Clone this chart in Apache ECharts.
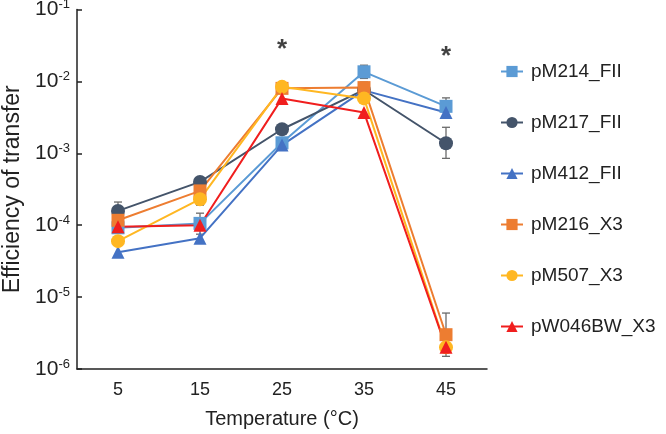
<!DOCTYPE html>
<html>
<head>
<meta charset="utf-8">
<script src="https://cdn.jsdelivr.net/npm/echarts@6/dist/echarts.min.js"></script>
<style>
  html, body { margin: 0; padding: 0; background: #fff; }
  #chart { width: 666px; height: 434px; }
</style>
</head>
<body>
<div id="chart"></div>
<script>
// temperature categories
const temps = ['5', '15', '25', '35', '45'];

// efficiency of transfer
const pM214_FII = [9.2e-5, 1.06e-4, 1.40e-3, 1.36e-2, 4.5e-3];
const pM217_FII = [1.58e-4, 4.0e-4, 2.16e-3, 7.6e-3, 1.38e-3];
const pM412_FII = [4.2e-5, 6.6e-5, 1.30e-3, 7.5e-3, 3.7e-3];
const pM216_X3 = [1.17e-4, 3.0e-4, 8.0e-3, 8.2e-3, 3.0e-6];
const pM507_X3 = [6.0e-5, 2.3e-4, 8.4e-3, 5.8e-3, 2.0e-6];
const pW046BW_X3 = [9.5e-5, 1.0e-4, 5.8e-3, 3.7e-3, 2.0e-6];

// error bars: [category index, low, high]
const errBars = [
  [0, 1.2e-4, 2.1e-4],
  [0, 8.0e-5, 1.2e-4],
  [1, 7.5e-5, 1.47e-4],
  [1, 1.9e-4, 3.4e-4],
  [2, 7.5e-3, 9.6e-3],
  [3, 1.1e-2, 1.68e-2],
  [3, 6.5e-3, 9.8e-3],
  [4, 3.2e-3, 5.9e-3],
  [4, 8.5e-4, 2.3e-3],
  [4, 1.5e-6, 6.0e-6]
];

// significance marks
const stars = [['25', 3.2e-2], ['45', 2.6e-2]];

let myChart = echarts.init(document.getElementById('chart'));

function lineSeries(name, data, color, symbol, size) {
  return {
    name: name,
    type: 'line',
    data: data,
    symbol: symbol,
    symbolSize: size,
    z: 3,
    lineStyle: { color: color, width: 2 },
    itemStyle: { color: color }
  };
}

let option = {
  animation: false,
  textStyle: { fontFamily: 'Liberation Sans, Arial, sans-serif' },
  grid: { left: 77, right: 179, top: 9.5, bottom: 65, outerBoundsMode: 'none', containLabel: false },
  legend: {
    orient: 'vertical',
    left: 500,
    top: 62,
    padding: 0,
    itemWidth: 22,
    itemHeight: 14,
    itemGap: 32,
    textStyle: { fontSize: 19, color: '#222', padding: [0, 0, 0, 3] },
    data: ['pM214_FII', 'pM217_FII', 'pM412_FII', 'pM216_X3', 'pM507_X3', 'pW046BW_X3']
  },
  xAxis: {
    type: 'category',
    data: temps,
    boundaryGap: true,
    name: 'Temperature (°C)',
    nameLocation: 'middle',
    nameGap: 40,
    nameTextStyle: { fontSize: 20, color: '#222' },
    axisLine: { lineStyle: { color: '#222', width: 1.5 } },
    axisTick: { inside: true, alignWithLabel: true, length: 6, lineStyle: { color: '#222', width: 1.5 } },
    axisLabel: { fontSize: 18, color: '#222', margin: 12 },
    splitLine: { show: false }
  },
  yAxis: {
    type: 'log',
    logBase: 10,
    min: 1e-6,
    max: 1e-1,
    name: 'Efficiency of transfer',
    nameLocation: 'middle',
    nameGap: 52,
    nameTextStyle: { fontSize: 23, color: '#222' },
    axisLine: { show: true, lineStyle: { color: '#222', width: 1.5 } },
    axisTick: { show: true, inside: true, length: 5, lineStyle: { color: '#222', width: 1.5 } },
    axisLabel: {
      margin: 7,
      formatter: function (v) {
        let e = Math.round(Math.log10(v));
        return '{b|10}{s|' + e + '}';
      },
      rich: {
        b: { fontSize: 21, color: '#222', fontFamily: 'Liberation Sans' },
        s: { fontSize: 13, color: '#222', fontFamily: 'Liberation Sans', verticalAlign: 'top', padding: [0, 0, 10, 0] }
      }
    },
    splitLine: { show: false }
  },
  series: [
    {
      type: 'custom',
      name: 'err',
      z: 2,
      data: errBars,
      renderItem: function (params, api) {
        let lo = api.coord([api.value(0), api.value(1)]);
        let hi = api.coord([api.value(0), api.value(2)]);
        let w = 4;
        let st = { stroke: '#6b6b6b', lineWidth: 1.3 };
        return {
          type: 'group',
          children: [
            { type: 'line', shape: { x1: lo[0], y1: lo[1], x2: hi[0], y2: hi[1] }, style: st },
            { type: 'line', shape: { x1: lo[0] - w, y1: lo[1], x2: lo[0] + w, y2: lo[1] }, style: st },
            { type: 'line', shape: { x1: hi[0] - w, y1: hi[1], x2: hi[0] + w, y2: hi[1] }, style: st }
          ]
        };
      }
    },
    lineSeries('pM214_FII', pM214_FII, '#5B9BD5', 'rect', 13),
    lineSeries('pM217_FII', pM217_FII, '#44546A', 'circle', 14),
    lineSeries('pM412_FII', pM412_FII, '#4472C4', 'triangle', 13),
    lineSeries('pM216_X3', pM216_X3, '#ED7D31', 'rect', 13),
    lineSeries('pM507_X3', pM507_X3, '#FFB722', 'circle', 14),
    lineSeries('pW046BW_X3', pW046BW_X3, '#F01E1E', 'triangle', 13),
    {
      type: 'scatter',
      name: 'stars',
      data: stars,
      symbol: 'circle',
      symbolSize: 1,
      itemStyle: { color: 'rgba(0,0,0,0)' },
      silent: true,
      label: {
        show: true,
        position: 'inside',
        formatter: '*',
        fontSize: 26,
        fontWeight: 'bold',
        color: '#111',
        offset: [0, 5]
      }
    }
  ]
};

myChart.setOption(option);
</script>
</body>
</html>
